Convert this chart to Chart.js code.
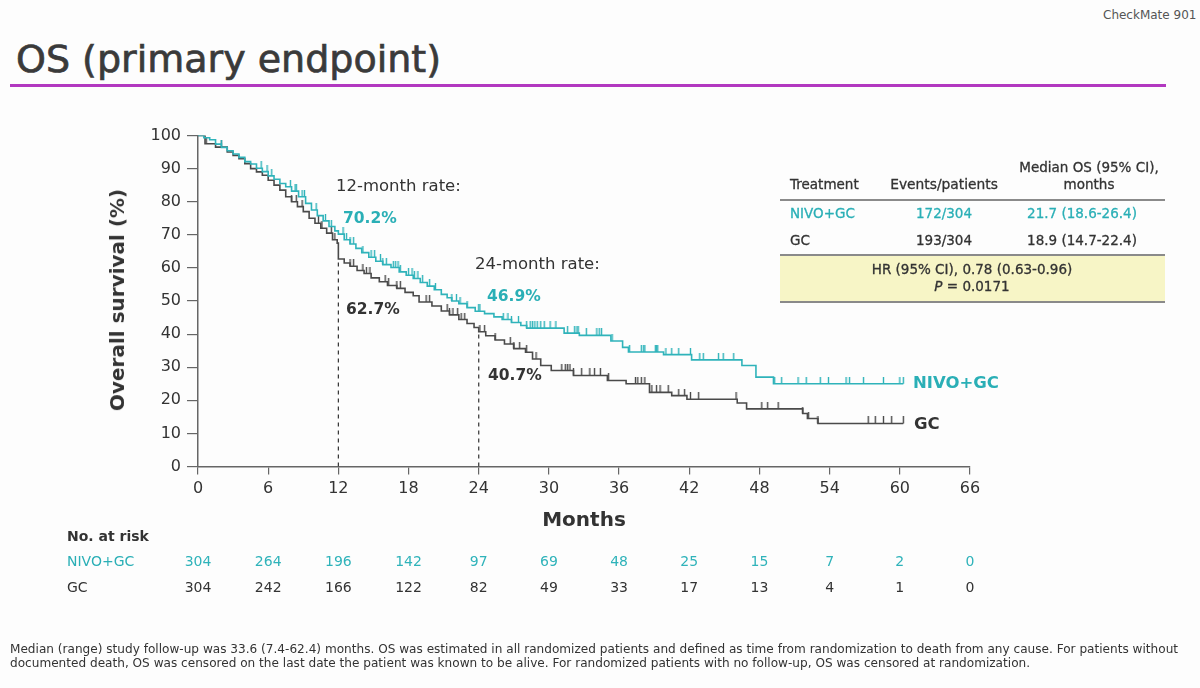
<!DOCTYPE html>
<html>
<head>
<meta charset="utf-8">
<script src="https://cdn.jsdelivr.net/npm/chart.js@4"></script>
<style>
  body { margin: 0; width: 1200px; height: 688px; background: #fdfdfd; position: relative; overflow: hidden; font-family: "DejaVu Sans", sans-serif; color: #333; }
  #c { position: absolute; left: 0; top: 0; }
  .t { position: absolute; white-space: nowrap; line-height: 1; }
  .mid { transform: translateX(-50%); }
  .teal { color: #2aafb6; }
  .b { font-weight: bold; }
  .tb { -webkit-text-stroke: 0.3px; }
  .rule { position: absolute; left: 780px; width: 385px; height: 2px; background: #8a8a8a; }
</style>
</head>
<body>
<div class="t" style="left:1103px;top:9px;font-size:12px;color:#555;">CheckMate 901</div>
<div class="t" style="left:16px;top:40px;font-size:38px;color:#3a3a3a;-webkit-text-stroke:0.7px;">OS (primary endpoint)</div>
<div style="position:absolute;left:10px;top:84px;width:1156px;height:3px;background:#b238c0;"></div>

<canvas id="c" width="1200" height="688"></canvas>

<!-- axis titles -->
<div class="t b" style="left:117px;top:300px;font-size:20px;transform:translate(-50%,-50%) rotate(-90deg);">Overall survival (%)</div>
<div class="t b mid" style="left:584px;top:509px;font-size:20px;">Months</div>

<!-- rate annotations -->
<div class="t" style="left:336px;top:178px;font-size:16.5px;">12-month rate:</div>
<div class="t b teal" style="left:343px;top:211px;font-size:15.5px;">70.2%</div>
<div class="t b" style="left:346px;top:302px;font-size:15.5px;">62.7%</div>
<div class="t" style="left:475px;top:256px;font-size:16.5px;">24-month rate:</div>
<div class="t b teal" style="left:487px;top:289px;font-size:15.5px;">46.9%</div>
<div class="t b" style="left:488px;top:368px;font-size:15.5px;">40.7%</div>

<!-- curve labels -->
<div class="t b teal" style="left:913px;top:375px;font-size:16.5px;">NIVO+GC</div>
<div class="t b" style="left:914px;top:416px;font-size:16.5px;">GC</div>

<!-- summary table -->
<div class="t mid tb" style="left:1089px;top:161px;font-size:13.5px;">Median OS (95% CI),</div>
<div class="t tb" style="left:790px;top:178px;font-size:13.5px;">Treatment</div>
<div class="t mid tb" style="left:944px;top:178px;font-size:13.8px;">Events/patients</div>
<div class="t mid tb" style="left:1089px;top:178px;font-size:13.5px;">months</div>
<div class="rule" style="top:199px;"></div>
<div class="t teal tb" style="left:790px;top:207px;font-size:13.5px;">NIVO+GC</div>
<div class="t mid teal tb" style="left:944px;top:207px;font-size:13.5px;">172/304</div>
<div class="t mid teal tb" style="left:1082px;top:207px;font-size:13.5px;">21.7 (18.6-26.4)</div>
<div class="t tb" style="left:790px;top:234px;font-size:13.5px;">GC</div>
<div class="t mid tb" style="left:944px;top:234px;font-size:13.5px;">193/304</div>
<div class="t mid tb" style="left:1082px;top:234px;font-size:13.5px;">18.9 (14.7-22.4)</div>
<div style="position:absolute;left:780px;top:255px;width:385px;height:47px;background:#f7f5c6;"></div>
<div class="rule" style="top:254px;"></div>
<div class="rule" style="top:301px;"></div>
<div class="t mid tb" style="left:972px;top:263px;font-size:13.5px;">HR (95% CI), 0.78 (0.63-0.96)</div>
<div class="t mid tb" style="left:972px;top:280px;font-size:13.5px;"><i>P</i> = 0.0171</div>

<!-- risk table labels -->
<div class="t b" style="left:67px;top:529px;font-size:14px;">No. at risk</div>
<div class="t teal" style="left:67px;top:554px;font-size:14px;">NIVO+GC</div>
<div class="t" style="left:67px;top:580px;font-size:14px;">GC</div>

<div class="t" style="left:10px;top:642px;font-size:12.1px;line-height:14px;">Median (range) study follow-up was 33.6 (7.4-62.4) months. OS was estimated in all randomized patients and defined as time from randomization to death from any cause. For patients without<br>documented death, OS was censored on the last date the patient was known to be alive. For randomized patients with no follow-up, OS was censored at randomization.</div>

<script>
// ---- data ----
const xTicks = [0, 6, 12, 18, 24, 30, 36, 42, 48, 54, 60, 66];
const yTicks = [0, 10, 20, 30, 40, 50, 60, 70, 80, 90, 100];

// KM steps: month of drop, survival % after the drop
const nivoT = [0, 0.5, 1.0, 1.5, 2.0, 2.5, 3.0, 3.5, 4.0, 4.5, 5.0, 5.5, 6.0, 6.5, 7.0, 7.5, 8.0, 8.6, 9.2, 9.7, 10.2, 10.7, 11.2, 11.7, 12.0,
  12.5, 13.0, 13.5, 14.0, 14.6, 15.2, 15.8, 16.5, 17.2, 17.8, 18.4, 19.0, 19.6, 20.2, 20.8, 21.3, 21.7, 22.3, 23.0, 23.7, 24.5, 25.3, 26.0, 26.8,
  27.6, 28.1, 31.3, 32.6, 35.3, 36.3, 36.8, 39.8, 42.2, 46.5, 47.7, 49.2, 60.3];
const nivoS = [100, 99.3, 98.7, 97.4, 96.4, 95.4, 94.4, 93.4, 92.1, 91.4, 90.1, 89.1, 87.8, 86.8, 85.5, 84.5, 83.2, 81.5, 79.5, 77.5, 75.8, 74.2, 72.5, 71.2, 70.2,
  68.5, 67.2, 65.9, 64.6, 63.2, 62.0, 61.0, 60.1, 58.8, 57.8, 56.8, 55.6, 54.5, 53.4, 52.0, 51.0, 50.0, 49.2, 48.0, 46.9, 46.2, 45.2, 44.4, 43.5,
  42.6, 41.8, 40.3, 39.6, 37.9, 36.0, 34.6, 33.8, 32.2, 30.5, 27.0, 25.0, 25.0];

const gcT = [0, 0.6, 1.5, 2.5, 3.0, 3.5, 4.0, 4.5, 5.0, 5.5, 6.0, 6.5, 7.0, 7.5, 8.0, 8.5, 9.0, 9.5, 10.0, 10.5, 11.0, 11.5, 11.9, 12.0,
  12.5, 13.0, 13.6, 14.2, 14.8, 15.5, 16.2, 17.0, 17.7, 18.4, 18.9, 20.0, 20.8, 21.5, 22.3, 23.0, 23.6, 24.0, 24.6, 25.4, 26.2, 27.0,
  28.0, 28.6, 29.3, 30.2, 32.1, 35.0, 36.6, 38.6, 40.5, 41.8, 46.1, 46.9, 51.7, 52.1, 53.0, 60.3];
const gcS = [100, 97.5, 96.5, 95.0, 94.0, 93.0, 91.5, 90.0, 89.0, 88.0, 86.5, 85.0, 83.5, 81.5, 80.0, 78.5, 77.0, 75.0, 73.5, 72.0, 70.5, 68.5, 67.5, 62.7,
  61.5, 60.5, 59.2, 58.3, 57.0, 55.8, 54.7, 53.8, 52.6, 51.6, 49.7, 48.5, 47.0, 45.8, 44.4, 43.2, 42.0, 40.7, 39.5, 38.2, 37.0, 35.6,
  34.5, 32.5, 30.5, 29.0, 27.5, 26.0, 25.0, 22.4, 21.4, 20.3, 19.2, 17.4, 16.0, 14.5, 13.0, 13.0];

// censored times (months)
const nivoCensor = [2.0, 5.4, 5.9, 6.3, 7.9, 8.3, 8.4, 8.9, 9.1, 10.1, 10.9, 11.4, 12.4, 12.7, 13.0, 13.3, 14.1, 14.8, 15.1, 15.6, 15.8,
  16.1, 16.7, 16.9, 17.1, 17.3, 18.0, 18.3, 18.5, 18.8, 19.2, 19.8, 20.3, 21.7, 22.1, 22.4, 23.0, 24.0, 24.1, 26.1, 26.5, 26.8, 27.4,
  28.1, 28.4, 28.6, 28.8, 29.0, 29.3, 29.6, 30.1, 30.6, 31.6, 32.2, 32.4, 32.5, 33.2, 34.1, 34.3, 34.5, 35.4, 36.9, 37.9, 38.1, 38.2,
  39.1, 39.2, 39.3, 40.0, 40.5, 41.1, 42.1, 42.9, 43.2, 44.5, 44.9, 45.8, 49.3, 49.9, 51.3, 52.0, 53.2, 53.9, 55.4, 55.7, 56.9, 58.6, 60.0, 60.3];
const gcCensor = [0.7, 2.0, 8.0, 8.4, 8.9, 10.3, 10.6, 11.4, 11.7, 13.0, 13.3, 14.1, 14.4, 14.7, 16.0, 16.3, 17.0, 17.3, 19.5, 19.8,
  21.3, 21.5, 21.8, 22.2, 22.5, 22.8, 24.1, 24.5, 25.4, 26.7, 27.0, 27.5, 28.1, 28.9, 31.1, 31.4, 31.6, 31.8, 32.1, 32.8, 33.5, 33.9,
  34.4, 35.1, 37.4, 37.6, 37.9, 38.2, 38.8, 39.2, 39.5, 40.2, 41.1, 41.6, 42.1, 42.8, 46.0, 48.2, 48.7, 49.6, 51.7, 52.2, 53.0, 57.3,
  57.9, 58.6, 59.3, 60.3];

// landmark rates
const rateMonths = [12, 24];
const gcRates = [62.7, 40.7];

// number at risk
const nivoRisk = [304, 264, 196, 142, 97, 69, 48, 25, 15, 7, 2, 0];
const gcRisk = [304, 242, 166, 122, 82, 49, 33, 17, 13, 4, 1, 0];

const TEAL = "#2fb3ba";
const GRAY = "#4a4a4a";

// value of the step curve at time t
function survAt(ts, ss, t) {
  let v = ss[0];
  for (let i = 0; i < ts.length; i++) {
    if (ts[i] <= t) v = ss[i];
  }
  return v;
}

// little upward tick used as the censor mark
function tickMark(color) {
  const c = document.createElement("canvas");
  c.width = 3;
  c.height = 14;
  const g = c.getContext("2d");
  g.fillStyle = color;
  g.fillRect(0.8, 0, 1.4, 7);
  return c;
}

const riskRows = {
  id: "riskRows",
  afterDraw(chart) {
    const ctx = chart.ctx;
    const x = chart.scales.x;
    ctx.save();
    ctx.font = "14px 'DejaVu Sans'";
    ctx.textAlign = "center";
    ctx.textBaseline = "middle";
    xTicks.forEach((m, i) => {
      const px = x.getPixelForValue(m);
      ctx.fillStyle = TEAL;
      ctx.fillText(nivoRisk[i], px, 562);
      ctx.fillStyle = "#333";
      ctx.fillText(gcRisk[i], px, 588);
    });
    ctx.restore();
  }
};

const datasets = [
  {
    data: nivoT.map((t, i) => ({ x: t, y: nivoS[i] })),
    borderColor: TEAL, borderWidth: 1.6, stepped: true, pointRadius: 0
  },
  {
    data: gcT.map((t, i) => ({ x: t, y: gcS[i] })),
    borderColor: GRAY, borderWidth: 1.6, stepped: true, pointRadius: 0
  },
  {
    data: nivoCensor.map(t => ({ x: t, y: survAt(nivoT, nivoS, t) })),
    showLine: false, pointStyle: tickMark(TEAL), pointRadius: 5
  },
  {
    data: gcCensor.map(t => ({ x: t, y: survAt(gcT, gcS, t) })),
    showLine: false, pointStyle: tickMark(GRAY), pointRadius: 5
  }
];

rateMonths.forEach((m, i) => {
  datasets.push({
    data: [{ x: m, y: 0 }, { x: m, y: gcRates[i] }],
    borderColor: "#333", borderWidth: 1.2, borderDash: [4, 4], pointRadius: 0
  });
});

new Chart(document.getElementById("c"), {
  type: "line",
  data: { datasets },
  plugins: [riskRows],
  options: {
    responsive: false,
    animation: false,
    layout: { padding: { left: 98, right: 230, top: 135.5, bottom: 151.5 } },
    plugins: { legend: { display: false }, tooltip: { enabled: false } },
    scales: {
      x: {
        type: "linear", min: 0, max: 66,
        afterBuildTicks: s => { s.ticks = xTicks.map(v => ({ value: v })); },
        afterFit: s => { s.height = 70; },
        grid: { drawOnChartArea: false, tickLength: 8, color: "#666", lineWidth: 1.2 },
        border: { color: "#666", width: 1.5 },
        ticks: { color: "#333", padding: 5, font: { family: "DejaVu Sans", size: 16 } }
      },
      y: {
        type: "linear", min: 0, max: 100,
        afterBuildTicks: s => { s.ticks = yTicks.map(v => ({ value: v })); },
        afterFit: s => { s.width = 100; },
        grid: { drawOnChartArea: false, tickLength: 11, color: "#666", lineWidth: 1.2 },
        border: { color: "#666", width: 1.5 },
        ticks: { color: "#333", padding: 6, font: { family: "DejaVu Sans", size: 16 } }
      }
    }
  }
});
</script>
</body>
</html>
